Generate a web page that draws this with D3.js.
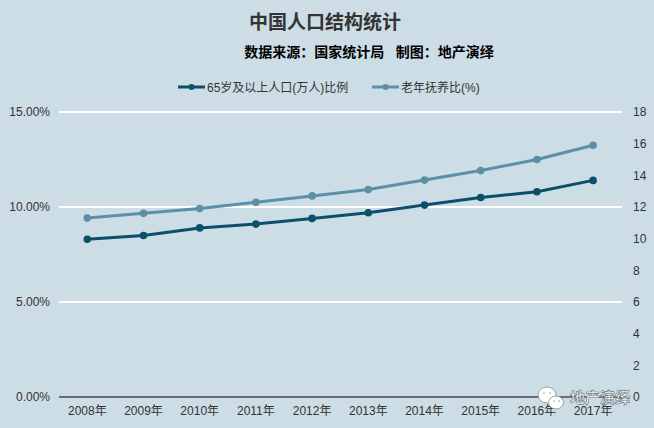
<!DOCTYPE html>
<html><head><meta charset="utf-8">
<script src="https://cdn.jsdelivr.net/npm/d3@7"></script>
<style>
html,body{margin:0;padding:0;background:#ccdde5;}
svg{display:block;}
text{font-family:"Liberation Sans","Noto Sans CJK SC",Arial,sans-serif;}
</style></head>
<body><svg id="c" width="654" height="428"></svg>
<script>
const categories = ["2008年","2009年","2010年","2011年","2012年","2013年","2014年","2015年","2016年","2017年"];
const elderlyShare = [8.3,8.5,8.9,9.1,9.4,9.7,10.1,10.5,10.8,11.4];
const dependencyRatio = [11.3,11.6,11.9,12.3,12.7,13.1,13.7,14.3,15.0,15.9];
const leftTicks = [0,5,10,15];
const rightTicks = [0,2,4,6,8,10,12,14,16,18];
const seriesNames = ["65岁及以上人口(万人)比例","老年抚养比(%)"];
const titleText = "中国人口结构统计";
const subtitleText = "数据来源：国家统计局   制图：地产演绎";
const watermarkText = "地产演绎";

const svg = d3.select("#c");
const W = 654, H = 428;
svg.append("rect").attr("width",W).attr("height",H).attr("fill","#ccdde5");

const x = d3.scaleBand().domain(categories).range([59.2, 621.2]);
const yL = d3.scaleLinear().domain([0,15]).range([397,112]);
const yR = d3.scaleLinear().domain([0,18]).range([397,112]);
const cx = d => x(d) + x.bandwidth()/2;
const colors = ["#0b4f6b","#5c8fa8"];
const textCol = "#333";

// title
svg.append("text").attr("x",325).attr("y",29).attr("text-anchor","middle")
  .attr("font-size",19).attr("font-weight","bold").attr("fill","#333").text(titleText);
svg.append("text").attr("x",369).attr("y",57).attr("text-anchor","middle")
  .attr("font-size",14).attr("font-weight","bold").attr("fill","#000")
  .style("white-space","pre").text(subtitleText);

// grid
svg.append("g").selectAll("line").data(leftTicks.filter(t=>t>0)).join("line")
  .attr("x1",59).attr("x2",622).attr("y1",d=>yL(d)).attr("y2",d=>yL(d))
  .attr("stroke","#fff").attr("stroke-width",2);
svg.append("line").attr("x1",59).attr("x2",622).attr("y1",yL(0)).attr("y2",yL(0))
  .attr("stroke","#000").attr("stroke-width",1.2);

// left axis
const gL = svg.append("g").attr("transform","translate(50,0)")
  .call(d3.axisLeft(yL).tickValues(leftTicks).tickSize(0).tickPadding(0).tickFormat(d=>d3.format(".2f")(d)+"%"));
gL.select(".domain").remove();
gL.selectAll("text").attr("font-size",12).attr("fill",textCol).attr("font-family","Liberation Sans, Arial, sans-serif");

// right axis
const gR = svg.append("g").attr("transform","translate(633,0)")
  .call(d3.axisRight(yR).tickValues(rightTicks).tickSize(0).tickPadding(0));
gR.select(".domain").remove();
gR.selectAll("text").attr("font-size",12).attr("fill",textCol).attr("font-family","Liberation Sans, Arial, sans-serif");

// bottom axis
const gB = svg.append("g").attr("transform","translate(0,397)")
  .call(d3.axisBottom(x).tickSize(0).tickPadding(9));
gB.select(".domain").remove();
gB.selectAll("text").attr("font-size",12).attr("fill",textCol);

// series
const series = [
  {vals: elderlyShare, y: yL, color: colors[0]},
  {vals: dependencyRatio, y: yR, color: colors[1]}
];
series.slice().reverse().forEach(s=>{
  const pts = categories.map((c,i)=>[cx(c), s.y(s.vals[i])]);
  svg.append("path").attr("d", d3.line()(pts)).attr("fill","none")
    .attr("stroke", s.color).attr("stroke-width",3).attr("stroke-linejoin","round");
  svg.append("g").selectAll("circle").data(pts).join("circle")
    .attr("cx",d=>d[0]).attr("cy",d=>d[1]).attr("r",3.8).attr("fill",s.color);
});

// legend
const legendItems = [{x:178, name:seriesNames[0], color:colors[0]},{x:372, name:seriesNames[1], color:colors[1]}];
legendItems.forEach(it=>{
  const g = svg.append("g");
  g.append("line").attr("x1",it.x).attr("x2",it.x+27).attr("y1",87).attr("y2",87)
    .attr("stroke",it.color).attr("stroke-width",3);
  g.append("circle").attr("cx",it.x+13.5).attr("cy",87).attr("r",3).attr("fill",it.color);
  g.append("text").attr("x",it.x+29).attr("y",91.5).attr("font-size",12).attr("fill",textCol).text(it.name);
});

// watermark
const wm = svg.append("g");
wm.append("ellipse").attr("cx",547).attr("cy",395).attr("rx",9).attr("ry",8)
  .attr("fill","#fff").attr("stroke","#8c989f").attr("stroke-width",0.9);
wm.append("ellipse").attr("cx",556).attr("cy",402.5).attr("rx",7.5).attr("ry",6.5)
  .attr("fill","#fff").attr("stroke","#8c989f").attr("stroke-width",0.9);
wm.selectAll("circle.eye").data([[544,393],[550,393],[554,401],[559,401]]).join("circle")
  .attr("cx",d=>d[0]).attr("cy",d=>d[1]).attr("r",0.9).attr("fill","#bbb");
wm.append("text").attr("x",570).attr("y",403).attr("font-size",15).attr("font-weight","bold")
  .attr("fill","#fff").attr("stroke","#6f7c84").attr("stroke-width",0.7)
  .attr("font-family","Noto Sans CJK SC, sans-serif").text(watermarkText);
</script></body></html>
